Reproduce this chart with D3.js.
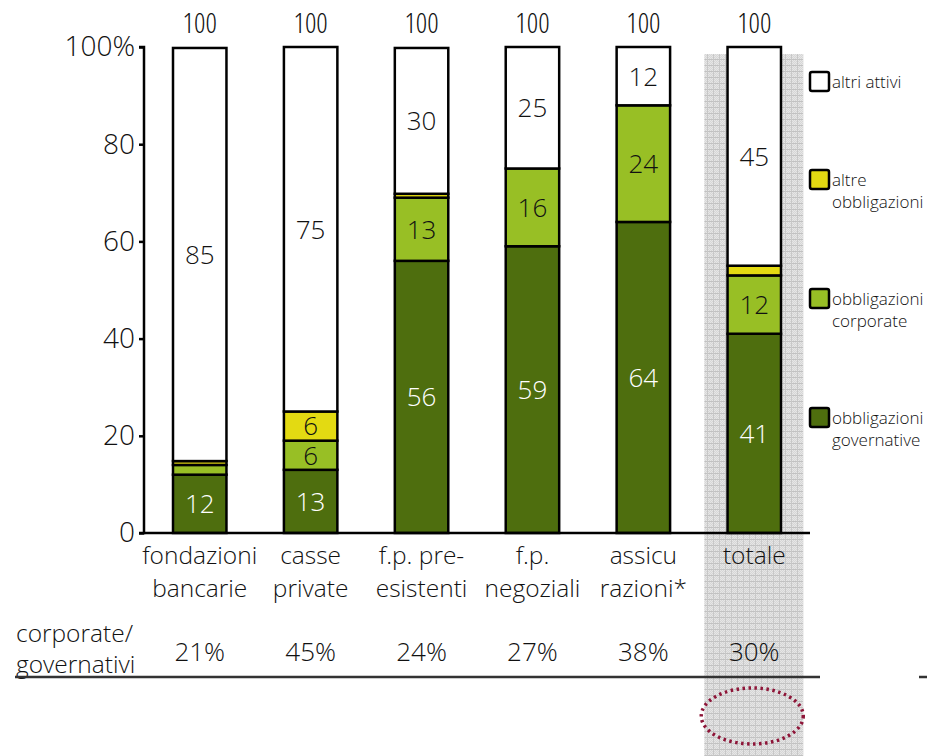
<!DOCTYPE html>
<html>
<head>
<meta charset="utf-8">
<script src="https://cdn.jsdelivr.net/npm/d3@7"></script>
<style>
  html, body { margin: 0; padding: 0; background: #fff; }
  svg text { font-family: "Open Sans", sans-serif; font-weight: 350; }
  svg text.num { font-stretch: 80%; }
  svg text.seg { font-stretch: 90%; }
  svg text.tick { font-stretch: 88%; }
  svg text.ratio { font-stretch: 88%; }
</style>
</head>
<body>
<svg id="chart" width="927" height="756"></svg>
<script>
// Categories (two-line labels) and stacked shares, in percent
const categories = ["fondazioni bancarie", "casse private", "f.p. pre-esistenti", "f.p. negoziali", "assicurazioni", "totale"];
const categoryLines = [["fondazioni", "bancarie"], ["casse", "private"], ["f.p. pre-", "esistenti"], ["f.p.", "negoziali"], ["assicu", "razioni*"], ["totale"]];
const governative = [12, 13, 56, 59, 64, 41];
const corporate = [2, 6, 13, 16, 24, 12];
const altreObbligazioni = [0.8, 6, 0.8, 0, 0, 2];
const altriAttivi = [85, 75, 30, 25, 12, 45];
const totals = [100, 100, 100, 100, 100, 100];
const ratioCorpGov = ["21%", "45%", "24%", "27%", "38%", "30%"];
const yTicks = [0, 20, 40, 60, 80, 100];
const seriesNames = ["governative", "corporate", "altre", "altri"];
const legendLabels = [["altri attivi"], ["altre", "obbligazioni"], ["obbligazioni", "corporate"], ["obbligazioni", "governative"]];
const legendKeys = ["altri", "altre", "corporate", "governative"];

const colors = { governative: "#4e6e0e", corporate: "#98bf25", altre: "#e3da12", altri: "#ffffff" };
const labelColor = { governative: "#ffffff", corporate: "#111", altre: "#111", altri: "#111" };

const svg = d3.select("#chart");

const rows = categories.map((c, i) => ({
  cat: c, governative: governative[i], corporate: corporate[i], altre: altreObbligazioni[i], altri: altriAttivi[i]
}));

const x = d3.scaleBand().domain(categories).range([144, 810]).paddingInner(0.518).paddingOuter(0.2615);
const y = d3.scaleLinear().domain([0, 100]).range([533, 47]);

// Highlight column behind the total
const defs = svg.append("defs");
const pat = defs.append("pattern").attr("id", "grain").attr("patternUnits", "userSpaceOnUse")
  .attr("width", 6).attr("height", 6);
pat.append("rect").attr("width", 6).attr("height", 6).attr("fill", "#d6d6d6");
for (let i = 0; i < 6; i++) for (let j = 0; j < 6; j++) {
  if ((i + j) % 2 === 0) pat.append("rect").attr("x", i).attr("y", j).attr("width", 1).attr("height", 1).attr("fill", "#e6e6e6");
}
pat.append("rect").attr("x", 0).attr("y", 5).attr("width", 6).attr("height", 1).attr("fill", "#c2c2c2");
pat.append("rect").attr("x", 5).attr("y", 0).attr("width", 1).attr("height", 6).attr("fill", "#c8c8c8");

const totCx = x("totale") + x.bandwidth() / 2;
svg.append("rect").attr("x", totCx - 50).attr("y", 54).attr("width", 99).attr("height", 756 - 54)
  .attr("fill", "url(#grain)");

// Stacked bars
const stack = d3.stack().keys(seriesNames);
const stacked = stack(rows);
const g = svg.append("g");
stacked.forEach(layer => {
  const key = layer.key;
  g.selectAll(null).data(layer).join("rect")
    .attr("x", d => x(d.data.cat))
    .attr("y", d => y(d[1]))
    .attr("width", x.bandwidth())
    .attr("height", d => y(d[0]) - y(d[1]))
    .attr("fill", colors[key])
    .attr("stroke", "#000")
    .attr("stroke-width", d => (d[1] - d[0]) > 0 ? 2.5 : 0);
});

// Segment value labels
stacked.forEach(layer => {
  const key = layer.key;
  g.selectAll(null).data(layer.filter(d => d[1] - d[0] >= 5)).join("text")
    .attr("class", "seg")
    .attr("x", d => x(d.data.cat) + x.bandwidth() / 2)
    .attr("y", d => y((d[0] + d[1]) / 2))
    .attr("dy", "0.36em")
    .attr("text-anchor", "middle")
    .attr("font-size", 26)
    .attr("fill", labelColor[key])
    .text(d => d[1] - d[0]);
});

// Totals above bars
svg.selectAll(null).data(categories).join("text")
  .attr("class", "num")
  .attr("x", c => x(c) + x.bandwidth() / 2)
  .attr("y", 33)
  .attr("text-anchor", "middle")
  .attr("font-size", 28)
  .attr("fill", "#111")
  .text((c, i) => totals[i]);

// Y axis
const yAxis = d3.axisLeft(y).tickValues(yTicks).tickSize(5).tickPadding(4)
  .tickFormat(d => d === 100 ? "100%" : d);
const ya = svg.append("g").attr("transform", "translate(144,0)").call(yAxis);
ya.attr("font-family", null);
ya.select(".domain").attr("stroke", "#000").attr("stroke-width", 2.5).attr("d", "M-5,47H0V533H-5");
ya.selectAll(".tick line").attr("stroke", "#000").attr("stroke-width", 2.5);
ya.selectAll(".tick text").attr("class", "tick").attr("font-size", 28).attr("fill", "#111");

// Baseline
svg.append("line").attr("x1", 144).attr("x2", 810).attr("y1", y(0)).attr("y2", y(0))
  .attr("stroke", "#000").attr("stroke-width", 2.5);

// Category labels
const cl = svg.selectAll(null).data(categories).join("text")
  .attr("x", c => x(c) + x.bandwidth() / 2)
  .attr("y", 564)
  .attr("text-anchor", "middle")
  .attr("font-size", 24.5)
  .attr("fill", "#111");
cl.selectAll("tspan").data((c, i) => categoryLines[i]).join("tspan")
  .attr("x", function () { return this.parentNode.getAttribute("x"); })
  .attr("dy", (t, j) => j === 0 ? 0 : 33)
  .text(t => t);

// Corporate / governativi ratio row
svg.append("text").attr("x", 16).attr("y", 642).attr("font-size", 24.5).attr("fill", "#111").text("corporate/");
svg.append("text").attr("x", 16).attr("y", 673).attr("font-size", 24.5).attr("fill", "#111").text("governativi");
svg.selectAll(null).data(categories).join("text")
  .attr("class", "ratio")
  .attr("x", c => x(c) + x.bandwidth() / 2)
  .attr("y", 661)
  .attr("text-anchor", "middle")
  .attr("font-size", 26)
  .attr("fill", "#111")
  .text((c, i) => ratioCorpGov[i]);

svg.append("line").attr("x1", 15).attr("x2", 820).attr("y1", 677).attr("y2", 677)
  .attr("stroke", "#333").attr("stroke-width", 2.5);
svg.append("line").attr("x1", 919).attr("x2", 927).attr("y1", 677).attr("y2", 677)
  .attr("stroke", "#333").attr("stroke-width", 2.5);

// Dotted highlight ring under the total
svg.append("ellipse").attr("cx", totCx - 2).attr("cy", 716).attr("rx", 51).attr("ry", 28)
  .attr("fill", "none").attr("stroke", "#8e1538").attr("stroke-width", 3.5)
  .attr("stroke-dasharray", "2.5 3.5");

// Legend
const legendY = [72, 170, 289, 408];
const lg = svg.append("g");
legendKeys.forEach((k, i) => {
  lg.append("rect").attr("x", 810).attr("y", legendY[i]).attr("width", 19).attr("height", 19).attr("rx", 2)
    .attr("fill", colors[k]).attr("stroke", "#000").attr("stroke-width", 2.5);
  const t = lg.append("text").attr("x", 832).attr("y", legendY[i] + 16).attr("font-size", 17).attr("fill", "#111");
  legendLabels[i].forEach((line, j) => {
    t.append("tspan").attr("x", 832).attr("dy", j === 0 ? 0 : 22).text(line);
  });
});
</script>
</body>
</html>
